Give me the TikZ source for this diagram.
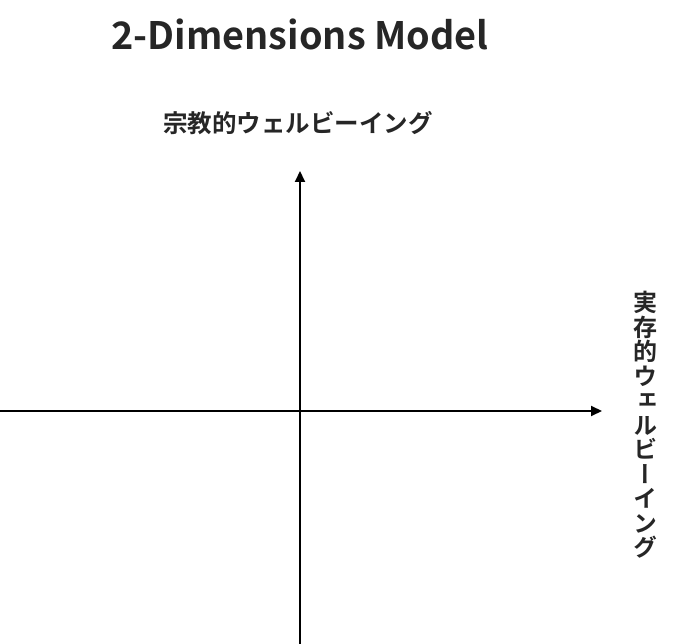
\documentclass[tikz,border=0pt]{standalone}
\usepackage{fontspec}
\newfontfamily\jp{Noto Sans CJK JP Bold}
\newfontfamily\jpv{Noto Sans CJK JP Bold}[RawFeature=+vert]
\newfontfamily\ttl{Noto Sans CJK JP Bold}
\usetikzlibrary{arrows.meta}
\begin{document}
\begin{tikzpicture}[x=1pt,y=-1pt,
  axis/.style={line width=2pt,-{Triangle[length=11pt,width=10pt]}},
  lbl/.style={inner sep=0pt,text=black!85}]
\useasboundingbox (0,0) rectangle (674,644);
\node[lbl,font=\ttl\fontsize{37.8}{37.8}\selectfont] (title) at (300,34) {2-Dimensions Model};
\node[lbl,font=\jp\fontsize{24.5}{24.5}\selectfont] (ylab) at (298,123) {宗教的ウェルビーイング};
\node[lbl,align=center,font=\jpv\fontsize{24}{24.5}\selectfont] (xlab) at (645,425) {実\\存\\的\\ウ\\ェ\\ル\\ビ\\ー\\イ\\ン\\グ};
\coordinate (xs) at (0,411);
\coordinate (xe) at (602,411);
\coordinate (ys) at (300,644);
\coordinate (ye) at (300,171);
\draw[axis] (xs) -- (xe);
\draw[axis] (ys) -- (ye);
\end{tikzpicture}
\end{document}
